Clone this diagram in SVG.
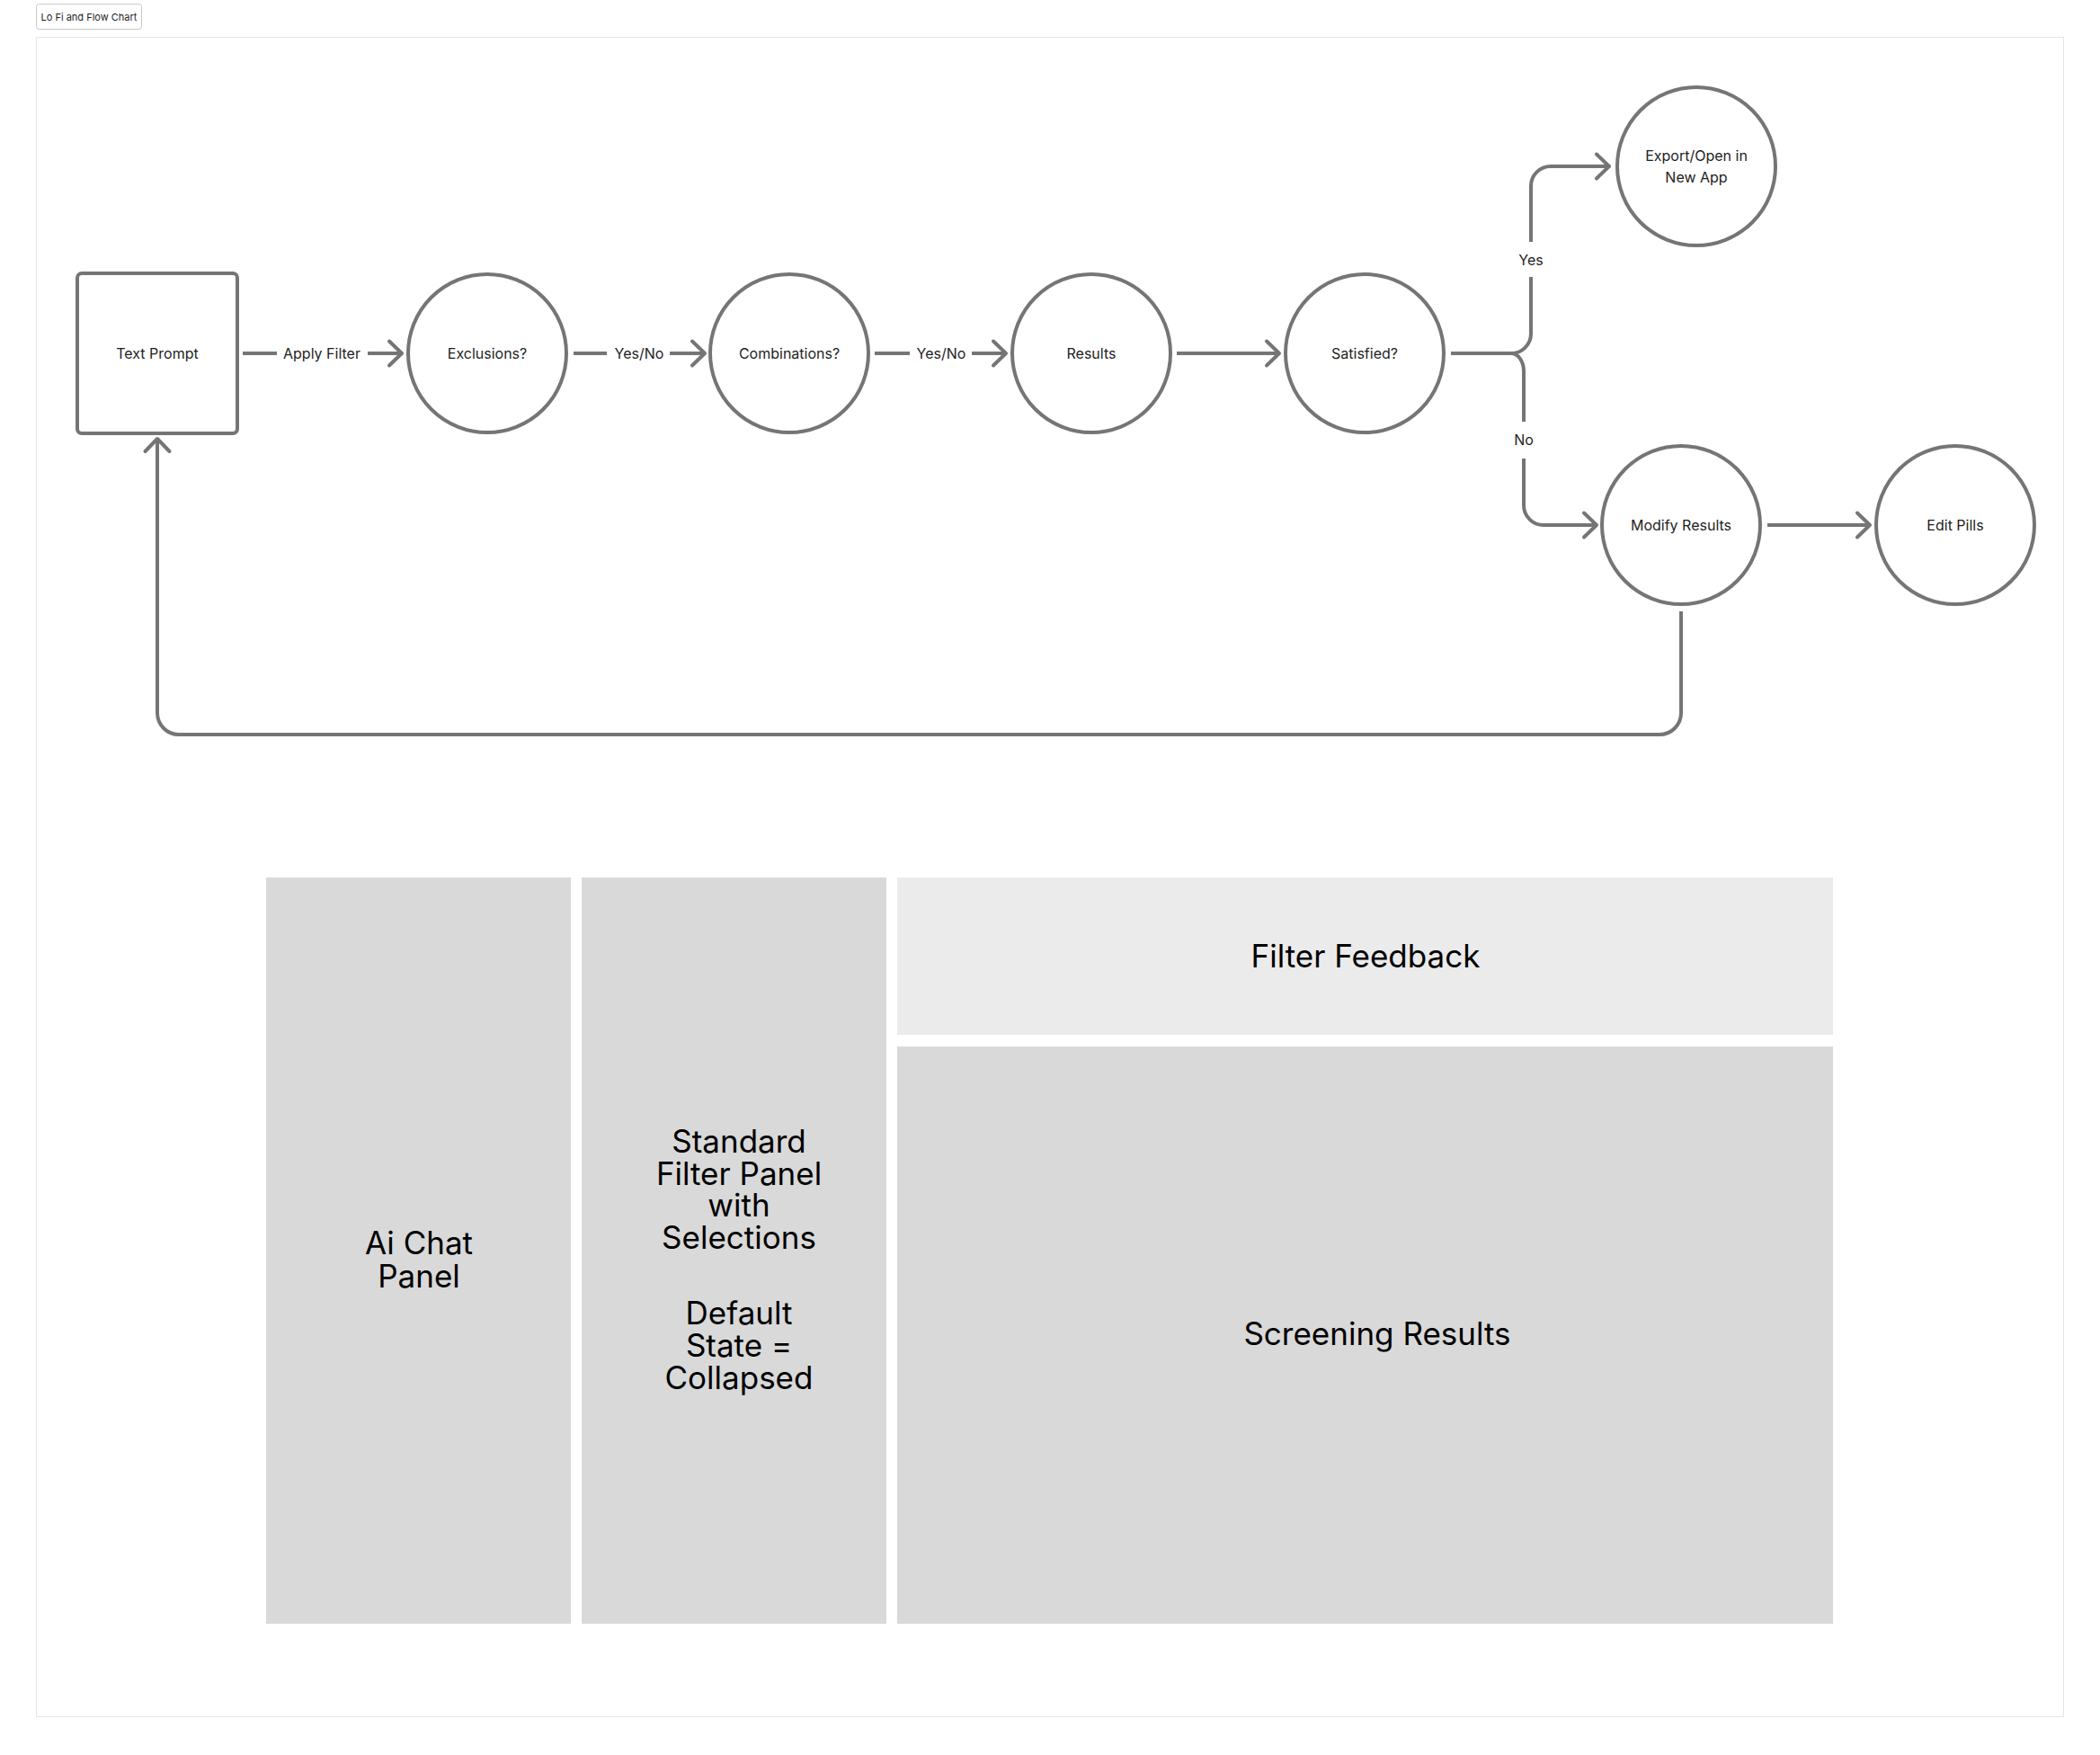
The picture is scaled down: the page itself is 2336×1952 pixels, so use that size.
<svg xmlns="http://www.w3.org/2000/svg" width="2336" height="1952" viewBox="0 0 2336 1952">
<style>
.shape{fill:#ffffff;stroke:#757575;stroke-width:4}
.edge{fill:none;stroke:#757575;stroke-width:4;stroke-linejoin:round}
.lbl{font-family:Inter,"Liberation Sans",sans-serif;font-size:16px;fill:#1e1e1e;text-anchor:middle}
.big{font-family:Inter,"Open Sans","Liberation Sans",sans-serif;font-size:35px;fill:#000000;text-anchor:middle}
.dark{fill:#d9d9d9}
.light{fill:#ebebeb}
</style>
<defs>
<marker id="arr" viewBox="-18 -18 22 36" refX="0" refY="0" markerWidth="22" markerHeight="36" markerUnits="userSpaceOnUse" orient="auto">
<path d="M-14,-13.5 L0,0 L-14,13.5" fill="none" stroke="#757575" stroke-width="4" stroke-linecap="round" stroke-linejoin="round"/>
</marker>
</defs>
<rect x="0" y="0" width="2336" height="1952" fill="#ffffff"/>
<g id="title">
<rect x="40.5" y="4.5" width="117" height="28" rx="3" fill="#ffffff" stroke="#c8c8c8" stroke-width="1"/>
<text x="99" y="22.5" font-family="Inter,'Liberation Sans',sans-serif" font-size="11" fill="#1e1e1e" text-anchor="middle">Lo Fi and Flow Chart</text>
</g>
<g id="frame">
<rect x="40.5" y="41.5" width="2255" height="1868" fill="none" stroke="#e6e6e6" stroke-width="1"/>
</g>
<g id="connectors">
<path class="edge" d="M270,393 H308"/>
<text class="lbl" x="358" y="399">Apply Filter</text>
<path class="edge" d="M409,393 H447" marker-end="url(#arr)"/>
<path class="edge" d="M638,393 H675"/>
<text class="lbl" x="711" y="399">Yes/No</text>
<path class="edge" d="M745,393 H784" marker-end="url(#arr)"/>
<path class="edge" d="M973,393 H1012"/>
<text class="lbl" x="1047" y="399">Yes/No</text>
<path class="edge" d="M1081,393 H1119" marker-end="url(#arr)"/>
<path class="edge" d="M1309,393 H1423" marker-end="url(#arr)"/>
<path class="edge" d="M1614,393 H1681 A22,22 0 0 0 1703,371 V308"/>
<path class="edge" d="M1703,269 V207 A22,22 0 0 1 1725,185 H1790" marker-end="url(#arr)"/>
<text class="lbl" x="1703" y="295">Yes</text>
<path class="edge" d="M1681,393 A14,20 0 0 1 1695,413 V469"/>
<path class="edge" d="M1695,510 V562 A22,22 0 0 0 1717,584 H1776" marker-end="url(#arr)"/>
<text class="lbl" x="1695" y="495">No</text>
<path class="edge" d="M1966,584 H2080" marker-end="url(#arr)"/>
<path class="edge" d="M1870,680 V793 A24,24 0 0 1 1846,817 H199 A24,24 0 0 1 175,793 V488" marker-end="url(#arr)"/>
</g>
<g id="text-prompt">
<rect class="shape" x="86" y="304" width="178" height="178" rx="5"/>
<text class="lbl" x="175" y="399">Text Prompt</text>
</g>
<g id="exclusions">
<circle class="shape" cx="542" cy="393" r="88"/>
<text class="lbl" x="542" y="399">Exclusions?</text>
</g>
<g id="combinations">
<circle class="shape" cx="878" cy="393" r="88"/>
<text class="lbl" x="878" y="399">Combinations?</text>
</g>
<g id="results">
<circle class="shape" cx="1214" cy="393" r="88"/>
<text class="lbl" x="1214" y="399">Results</text>
</g>
<g id="satisfied">
<circle class="shape" cx="1518" cy="393" r="88"/>
<text class="lbl" x="1518" y="399">Satisfied?</text>
</g>
<g id="export">
<circle class="shape" cx="1887" cy="185" r="88"/>
<text class="lbl" x="1887" y="179"><tspan x="1887" y="179">Export/Open in</tspan><tspan x="1887" y="203">New App</tspan></text>
</g>
<g id="modify-results">
<circle class="shape" cx="1870" cy="584" r="88"/>
<text class="lbl" x="1870" y="590">Modify Results</text>
</g>
<g id="edit-pills">
<circle class="shape" cx="2175" cy="584" r="88"/>
<text class="lbl" x="2175" y="590">Edit Pills</text>
</g>
<g id="ai-chat-panel">
<rect class="dark" x="296" y="976" width="339" height="830"/>
<text class="big" x="466" y="1395"><tspan x="466" y="1395">Ai Chat</tspan><tspan x="466" y="1432">Panel</tspan></text>
</g>
<g id="standard-filter-panel">
<rect class="dark" x="647" y="976" width="339" height="830"/>
<text class="big" x="822" y="1282"><tspan x="822" y="1282">Standard</tspan><tspan x="822" y="1318">Filter Panel</tspan><tspan x="822" y="1353">with</tspan><tspan x="822" y="1389">Selections</tspan><tspan x="822" y="1473">Default</tspan><tspan x="822" y="1509">State =</tspan><tspan x="822" y="1545">Collapsed</tspan></text>
</g>
<g id="filter-feedback">
<rect class="light" x="998" y="976" width="1041" height="175"/>
<text class="big" x="1519" y="1076">Filter Feedback</text>
</g>
<g id="screening-results">
<rect class="dark" x="998" y="1164" width="1041" height="642"/>
<text class="big" x="1532" y="1496">Screening Results</text>
</g>
</svg>
